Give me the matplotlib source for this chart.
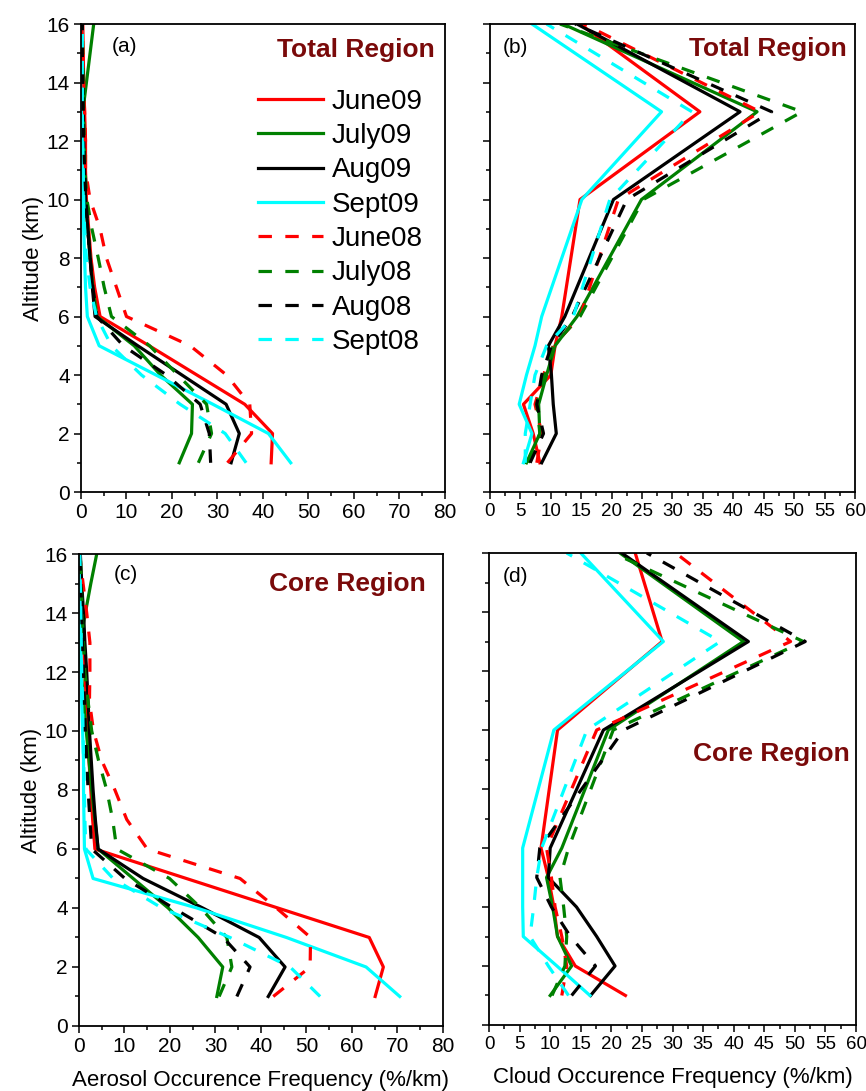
import matplotlib
matplotlib.use("Agg")
import matplotlib.pyplot as plt
from matplotlib.ticker import MultipleLocator

plt.rcParams['font.family'] = ['Liberation Sans', 'DejaVu Sans']

labels = ['June09', 'July09', 'Aug09', 'Sept09', 'June08', 'July08', 'Aug08', 'Sept08']
colors = ['#ff0000', '#008000', '#000000', '#00ffff'] * 2
styles = ['-'] * 4 + [(0, (4.2, 4.2))] * 4

# altitude levels (km)
aer_alt = list(range(1, 17))
cld_alt = [1, 2, 3, 4, 5, 6, 10, 13, 16]

# (a) aerosol, total region
aer_total = [
    [41.8, 42.1, 36.0, 25.5, 15.0, 4.2, 3.0, 2.2, 1.7, 1.2, 1.0, 1.0, 0.8, 0.6, 0.5, 0.4],
    [21.6, 24.3, 24.5, 17.5, 11.7, 3.5, 2.6, 2.0, 1.5, 1.0, 0.6, 0.3, 0.4, 1.2, 2.0, 2.8],
    [33.0, 34.8, 31.9, 22.2, 12.5, 3.1, 2.5, 2.0, 1.5, 1.0, 0.8, 0.6, 0.5, 0.4, 0.3, 0.3],
    [46.1, 41.2, 29.0, 16.5, 4.0, 1.4, 1.0, 0.8, 0.6, 0.5, 0.4, 0.3, 0.3, 0.3, 0.3, 0.3],
    [32.2, 37.5, 37.1, 32.0, 24.0, 10.0, 7.8, 5.6, 4.2, 2.0, 1.0, 1.0, 0.8, 0.6, 0.4, 0.2],
    [25.8, 28.7, 27.6, 21.3, 15.1, 6.7, 5.1, 3.8, 2.4, 1.3, 0.9, 0.7, 0.6, 0.5, 0.4, 0.3],
    [28.5, 28.2, 26.2, 18.8, 9.3, 3.5, 2.6, 2.0, 1.5, 1.1, 0.8, 0.6, 0.5, 0.4, 0.3, 0.3],
    [36.3, 31.7, 21.8, 13.3, 6.7, 3.4, 2.0, 1.2, 0.8, 0.6, 0.5, 0.4, 0.3, 0.3, 0.3, 0.3],
]

# (b) cloud, total region
cld_total = [
    [8.2, 7.1, 5.5, 10.0, 10.7, 11.8, 14.8, 34.5, 14.8],
    [6.0, 8.2, 8.0, 9.3, 10.7, 14.3, 24.9, 43.9, 12.0],
    [8.5, 10.9, 10.4, 10.1, 9.6, 12.3, 20.3, 41.1, 14.3],
    [5.5, 6.9, 4.8, 6.0, 7.4, 8.5, 15.1, 28.2, 6.9],
    [7.7, 8.5, 7.4, 8.8, 10.4, 14.8, 21.1, 44.4, 15.4],
    [6.3, 8.2, 7.7, 9.0, 10.4, 14.8, 25.2, 51.3, 11.5],
    [6.6, 8.8, 7.7, 8.5, 10.1, 13.5, 22.5, 46.3, 14.0],
    [5.8, 5.8, 6.6, 7.4, 9.3, 13.7, 19.7, 33.2, 9.3],
]

# (c) aerosol, core region
aer_core = [
    [65.1, 66.9, 63.8, 43.7, 23.6, 3.5, 3.0, 2.6, 2.2, 1.9, 1.6, 1.3, 1.0, 0.8, 0.5, 0.2],
    [30.3, 31.6, 26.2, 19.6, 11.9, 4.2, 3.5, 2.8, 2.2, 1.6, 1.0, 0.5, 0.2, 1.4, 2.6, 3.9],
    [41.6, 45.3, 39.6, 27.2, 14.1, 4.2, 3.6, 3.1, 2.7, 2.3, 2.0, 1.7, 1.3, 1.0, 0.6, 0.3],
    [70.5, 63.1, 45.6, 25.9, 3.1, 1.2, 1.1, 1.0, 1.0, 0.8, 0.6, 0.5, 0.4, 0.3, 0.1, 0.0],
    [42.7, 50.8, 50.9, 43.4, 35.4, 15.0, 10.5, 7.9, 5.0, 3.2, 2.3, 2.4, 2.4, 1.7, 0.9, 0.1],
    [30.8, 33.6, 32.5, 26.8, 19.9, 8.3, 7.4, 6.1, 4.3, 2.8, 2.0, 1.3, 1.0, 0.7, 0.5, 0.3],
    [34.7, 37.6, 31.7, 20.7, 10.1, 2.8, 2.4, 2.0, 1.7, 1.4, 1.2, 1.0, 0.8, 0.6, 0.4, 0.2],
    [53.0, 46.4, 33.2, 18.2, 7.5, 1.5, 1.3, 1.2, 1.0, 0.9, 0.8, 0.6, 0.5, 0.4, 0.3, 0.2],
]

# (d) cloud, core region
cld_core = [
    [22.3, 14.1, 11.2, 10.6, 9.7, 8.5, 11.2, 28.3, 23.9],
    [10.0, 13.5, 11.2, 10.4, 9.4, 11.9, 19.5, 41.6, 21.4],
    [16.6, 20.6, 17.6, 14.3, 9.7, 10.0, 18.7, 42.4, 21.7],
    [16.5, 11.1, 5.6, 5.5, 5.5, 5.5, 10.6, 28.5, 15.0],
    [11.9, 12.7, 11.9, 10.8, 10.2, 9.4, 17.6, 49.3, 30.5],
    [10.3, 12.4, 12.7, 12.2, 11.6, 13.0, 20.3, 51.4, 20.3],
    [13.5, 17.4, 13.3, 10.2, 7.8, 8.3, 22.0, 51.7, 25.8],
    [13.0, 9.7, 6.7, 7.3, 7.8, 8.6, 16.0, 37.8, 12.7],
]

title_color = '#7a0a0a'

fig = plt.figure(figsize=(8.66, 10.91), dpi=100)
ax_a = fig.add_axes([0.0935, 0.549, 0.4203, 0.429])
ax_b = fig.add_axes([0.5658, 0.549, 0.4215, 0.429])
ax_c = fig.add_axes([0.0912, 0.0596, 0.4203, 0.4326])
ax_d = fig.add_axes([0.5647, 0.0605, 0.4238, 0.4326])


def draw_panel(ax, alt, data, xmax, xmajor, xminor, tick_size, ylabels):
    for vals, lab, c, ls in zip(data, labels, colors, styles):
        ax.plot(vals, alt, color=c, linestyle=ls, lw=2.3, label=lab)
    ax.set_xlim(0, xmax)
    ax.set_ylim(0, 16)
    ax.xaxis.set_major_locator(MultipleLocator(xmajor))
    ax.xaxis.set_minor_locator(MultipleLocator(xminor))
    ax.yaxis.set_major_locator(MultipleLocator(2))
    ax.yaxis.set_minor_locator(MultipleLocator(1))
    ax.tick_params(which='major', direction='out', length=5, width=1.1,
                   labelsize=tick_size, pad=3)
    ax.tick_params(which='minor', direction='out', length=3, width=1.1)
    if not ylabels:
        ax.tick_params(axis='y', labelleft=False)
    for s in ax.spines.values():
        s.set_linewidth(1.3)


draw_panel(ax_a, aer_alt, aer_total, 80, 10, 5, 15, True)
draw_panel(ax_b, cld_alt, cld_total, 60, 5, 2.5, 13.5, False)
draw_panel(ax_c, aer_alt, aer_core, 80, 10, 5, 15, True)
draw_panel(ax_d, cld_alt, cld_core, 60, 5, 2.5, 13.5, False)

ax_a.set_ylabel('Altitude (km)', fontsize=16, labelpad=2)
ax_c.set_ylabel('Altitude (km)', fontsize=16, labelpad=2)
ax_c.set_xlabel('Aerosol Occurence Frequency (%/km)', fontsize=16, labelpad=10)
ax_d.set_xlabel('Cloud Occurence Frequency (%/km)', fontsize=16, labelpad=10)

ax_a.legend(loc='upper left', bbox_to_anchor=(0.486, 0.862), frameon=False,
            fontsize=20, handlelength=2.35, handletextpad=0.3,
            labelspacing=0.3, borderpad=0, borderaxespad=0)

for ax, tag, tx, ty in [(ax_a, '(a)', 0.085, 0.951), (ax_b, '(b)', 0.036, 0.95),
                        (ax_c, '(c)', 0.096, 0.956), (ax_d, '(d)', 0.038, 0.95)]:
    ax.text(tx, ty, tag, transform=ax.transAxes, fontsize=15, va='center', ha='left')

for ax, name, tx, ty in [(ax_a, 'Total Region', 0.973, 0.945),
                         (ax_b, 'Total Region', 0.978, 0.947),
                         (ax_c, 'Core Region', 0.953, 0.937),
                         (ax_d, 'Core Region', 0.984, 0.575)]:
    ax.text(tx, ty, name, transform=ax.transAxes, fontsize=19, fontweight='bold',
            color=title_color, ha='right', va='center')

fig.savefig('out.png', dpi=100)
